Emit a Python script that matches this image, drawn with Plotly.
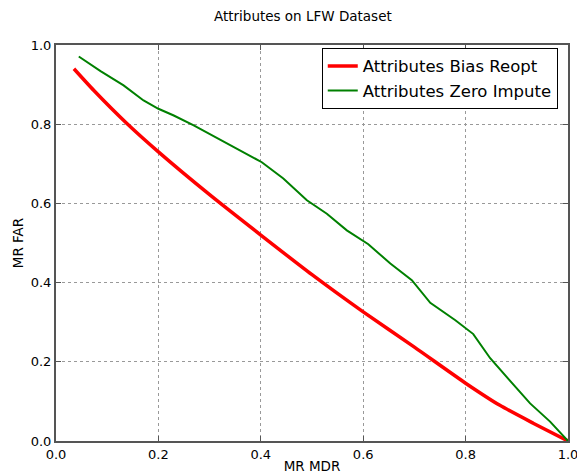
import plotly.graph_objects as go

bias_x = [0.035, 0.074, 0.139, 0.2, 0.3, 0.4, 0.5, 0.6, 0.7, 0.8, 0.867, 0.932, 1.0]
bias_y = [0.94, 0.885, 0.801, 0.73, 0.622, 0.52, 0.42, 0.326, 0.237, 0.146, 0.09, 0.045, 0.0]

zero_x = [0.0445, 0.087, 0.132, 0.171, 0.2, 0.23, 0.269, 0.314, 0.36, 0.38, 0.402, 0.444, 0.49, 0.529, 0.568,
          0.61, 0.653, 0.695, 0.731, 0.78, 0.815, 0.848, 0.88, 0.926, 0.965, 1.0]
zero_y = [0.971, 0.934, 0.898, 0.86, 0.839, 0.822, 0.797, 0.766, 0.734, 0.721, 0.704, 0.663, 0.608, 0.574, 0.532,
          0.497, 0.448, 0.406, 0.349, 0.305, 0.27, 0.209, 0.162, 0.095, 0.049, 0.0]

ticks = [0.0, 0.2, 0.4, 0.6, 0.8, 1.0]
tick_text = ["0.0", "0.2", "0.4", "0.6", "0.8", "1.0"]

fig = go.Figure()
fig.add_trace(go.Scatter(x=bias_x, y=bias_y, mode="lines", name="Attributes Bias Reopt",
                         line=dict(color="#ff0000", width=3.5, shape="spline", smoothing=0.6)))
fig.add_trace(go.Scatter(x=zero_x, y=zero_y, mode="lines", name="Attributes Zero Impute",
                         line=dict(color="#008000", width=2)))

axis_common = dict(
    range=[0, 1], tickvals=ticks, ticktext=tick_text,
    showgrid=True, gridcolor="#999999", griddash="dot", gridwidth=1,
    showline=True, linecolor="#555555", linewidth=2, mirror="ticks",
    ticks="inside", ticklen=5, tickcolor="#555555",
    zeroline=False, automargin=False,
    tickfont=dict(size=13, color="#000000", family="DejaVu Sans"),
)

# The page places the figure about 8px in from the top-left corner, so the
# figure is sized and its margins set to land the plot area where the reference has it.
fig.update_layout(
    width=577, height=466,
    margin=dict(l=48, r=17, t=37, b=33, autoexpand=False),
    paper_bgcolor="white", plot_bgcolor="white",
    font=dict(family="DejaVu Sans", color="#000000"),
    title=dict(text="Attributes on LFW Dataset", x=0.511, xanchor="center", y=1, yanchor="top",
               pad=dict(t=4), font=dict(size=13.5)),
    xaxis=dict(axis_common, title=dict(text="MR MDR", font=dict(size=13.5), standoff=1)),
    yaxis=dict(axis_common, title=dict(text="MR FAR", font=dict(size=13.5), standoff=4)),
    legend=dict(x=0.98, y=0.993, xanchor="right", yanchor="top",
                bordercolor="#000000", borderwidth=1, bgcolor="white",
                font=dict(size=16.5)),
    showlegend=True,
)

fig.write_html("out.html")
